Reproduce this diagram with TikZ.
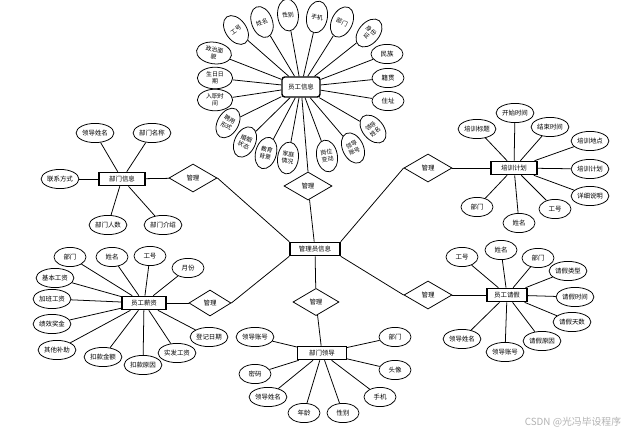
\documentclass[tikz,border=0pt]{standalone}
\usepackage{fontspec}
\newfontfamily\cjk{Noto Sans CJK SC}
\usepackage{tikz}
\usetikzlibrary{positioning,shapes.geometric}

\begin{document}
\begin{tikzpicture}[x=0.025cm, y=-0.025cm, line width=0.55pt, font=\cjk\fontsize{4.6}{5.4}\selectfont, entity/.style={draw, line width=1pt, minimum width=1.15cm, minimum height=0.33cm, inner sep=1pt}, rel/.style={draw, diamond, minimum width=1.2cm, minimum height=0.7cm, inner sep=0pt}, attr/.style={draw, ellipse, minimum width=0.8cm, minimum height=0.48cm, inner sep=0.3pt}, tall/.style={draw, ellipse, align=center, minimum width=0.52cm, minimum height=0.8cm, inner sep=0pt, font=\cjk\fontsize{4.2}{5}\selectfont}, wide/.style={draw, ellipse, align=center, minimum width=0.88cm, minimum height=0.54cm, inner sep=0pt, font=\cjk\fontsize{4.2}{5}\selectfont}]

\useasboundingbox (0,0) rectangle (641,434);

% centre
\node[entity, minimum width=1.25cm] (admin) at (315,249) {管理员信息};
\node[rel] (relTop) at (308,186) {管理};
\node[draw, rounded corners=2pt, line width=1pt, minimum width=0.95cm, minimum height=0.5cm] (staff) at (301,87) {员工信息};

% staff attributes
\node[tall, rotate=35] (sGh) at (236,30) {工号};
\node[tall, rotate=20] (sXm) at (262,22) {姓名};
\node[tall, rotate=5] (sXb) at (288,15) {性别};
\node[tall, rotate=-10] (sSj) at (317,17) {手机};
\node[tall, rotate=-25] (sBm) at (342,22) {部门};
\node[tall, rotate=-40] (sSfz) at (369,33) {身份\\证};
\node[wide, rotate=-8] (sZzmm) at (214,53) {政治面\\貌};
\node[wide] (sSr) at (215,78) {生日日\\期};
\node[wide] (sRz) at (215,100) {入职时\\间};
\node[tall, rotate=-30] (sPy) at (228,123) {聘用\\形式};
\node[tall, rotate=-25] (sHy) at (245,142) {婚姻\\状态};
\node[tall, rotate=-15] (sJy) at (266,153) {教育\\背景};
\node[tall, rotate=-8] (sJt) at (288,158) {家庭\\情况};
\node[tall, rotate=10] (sGw) at (327,156) {岗位\\变动};
\node[tall, rotate=25] (sLdzh) at (353,148) {领导\\账号};
\node[tall, rotate=40] (sLdxm) at (373,129) {领导\\姓名};
\node[attr] (sMz) at (387,54) {民族};
\node[attr] (sJg) at (388,78) {籍贯};
\node[attr] (sZz) at (388,101) {住址};

% department
\node[entity] (dept) at (122,179) {部门信息};
\node[rel] (relDept) at (193,178) {管理};
\node[attr] (dLdxm) at (95,133) {领导姓名};
\node[attr] (dBmmc) at (152,133) {部门名称};
\node[attr] (dLxfs) at (60,179) {联系方式};
\node[attr] (dBmrs) at (108,225) {部门人数};
\node[attr] (dBmjs) at (163,225) {部门介绍};

% training plan
\node[entity] (plan) at (514,168) {培训计划};
\node[rel] (relPlan) at (428,168) {管理};
\node[attr] (pBt) at (477,129) {培训标题};
\node[attr] (pKs) at (515,113) {开始时间};
\node[attr] (pJs) at (550,127) {结束时间};
\node[attr] (pDd) at (590,141) {培训地点};
\node[attr] (pJh) at (590,169) {培训计划};
\node[attr] (pSm) at (590,196) {详细说明};
\node[attr] (pBm) at (477,207) {部门};
\node[attr] (pXm) at (519,223) {姓名};
\node[attr] (pGh) at (555,209) {工号};

% salary
\node[entity, minimum width=1.1cm] (salary) at (144,303) {员工薪资};
\node[rel, minimum width=1.05cm, minimum height=0.65cm] (relSalary) at (210,303) {管理};
\node[attr] (wBm) at (70,257) {部门};
\node[attr] (wXm) at (112,257) {姓名};
\node[attr] (wGh) at (150,256) {工号};
\node[attr] (wYf) at (188,268) {月份};
\node[attr] (wJb) at (55,278) {基本工资};
\node[attr] (wJiab) at (52,299) {加班工资};
\node[attr] (wJx) at (52,324) {绩效奖金};
\node[attr] (wQt) at (57,350) {其他补助};
\node[attr] (wKkje) at (103,357) {扣款金额};
\node[attr] (wKkyy) at (143,365) {扣款原因};
\node[attr] (wSf) at (177,353) {实发工资};
\node[attr] (wDj) at (209,337) {登记日期};

% department leader
\node[rel, minimum width=1.15cm, minimum height=0.68cm] (relLeader) at (316,302) {管理};
\node[entity, minimum width=1.22cm] (leader) at (322,353) {部门领导};
\node[attr] (lZh) at (255,337) {领导账号};
\node[attr] (lMm) at (255,374) {密码};
\node[attr] (lXm) at (268,397) {领导姓名};
\node[attr] (lNl) at (304,413) {年龄};
\node[attr] (lXb) at (343,413) {性别};
\node[attr] (lSj) at (380,397) {手机};
\node[attr] (lTx) at (395,370) {头像};
\node[attr] (lBm) at (395,337) {部门};

% leave
\node[entity, minimum width=1.0cm] (leave) at (507,295) {员工请假};
\node[rel] (relLeave) at (428,295) {管理};
\node[attr] (qGh) at (462,257) {工号};
\node[attr] (qXm) at (501,250) {姓名};
\node[attr] (qBm) at (538,258) {部门};
\node[attr] (qLx) at (568,271) {请假类型};
\node[attr] (qSj) at (575,297) {请假时间};
\node[attr] (qTs) at (572,322) {请假天数};
\node[attr] (qYy) at (542,341) {请假原因};
\node[attr] (qZh) at (505,352) {领导账号};
\node[attr] (qLdxm) at (462,339) {领导姓名};

\node[text=gray!60, font=\cjk\fontsize{7}{8}\selectfont] (mark) at (573,422) {CSDN @光冯毕设程序};

\path
    (admin) edge (relTop)
    (relTop.north) edge (staff)
    (relDept.east) edge (admin.north west)
    (relPlan.west) edge (admin.north east)
    (relSalary.east) edge (admin.south west)
    (relLeave.west) edge (admin.south east)
    (admin) edge (relLeader)
    (relLeader) edge (leader)
    (relDept) edge (dept)
    (relPlan) edge (plan)
    (relSalary) edge (salary)
    (relLeave) edge (leave);

\path
    (staff) edge (sGh) (staff) edge (sXm) (staff) edge (sXb)
    (staff) edge (sSj) (staff) edge (sBm) (staff) edge (sSfz)
    (staff) edge (sZzmm) (staff) edge (sSr) (staff) edge (sRz)
    (staff) edge (sPy) (staff) edge (sHy) (staff) edge (sJy)
    (staff) edge (sJt) (staff) edge (sGw) (staff) edge (sLdzh)
    (staff) edge (sLdxm) (staff) edge (sMz) (staff) edge (sJg)
    (staff) edge (sZz);

\path
    (dept) edge (dLdxm) (dept) edge (dBmmc) (dept) edge (dLxfs)
    (dept) edge (dBmrs) (dept) edge (dBmjs);

\path
    (plan) edge (pBt) (plan) edge (pKs) (plan) edge (pJs)
    (plan) edge (pDd) (plan) edge (pJh) (plan) edge (pSm)
    (plan) edge (pBm) (plan) edge (pXm) (plan) edge (pGh);

\path
    (salary) edge (wBm) (salary) edge (wXm) (salary) edge (wGh)
    (salary) edge (wYf) (salary) edge (wJb) (salary) edge (wJiab)
    (salary) edge (wJx) (salary) edge (wQt) (salary) edge (wKkje)
    (salary) edge (wKkyy) (salary) edge (wSf) (salary) edge (wDj);

\path
    (leader) edge (lZh) (leader) edge (lMm) (leader) edge (lXm)
    (leader) edge (lNl) (leader) edge (lXb) (leader) edge (lSj)
    (leader) edge (lTx) (leader) edge (lBm);

\path
    (leave) edge (qGh) (leave) edge (qXm) (leave) edge (qBm)
    (leave) edge (qLx) (leave) edge (qSj) (leave) edge (qTs)
    (leave) edge (qYy) (leave) edge (qZh) (leave) edge (qLdxm);
\end{tikzpicture}
\end{document}
